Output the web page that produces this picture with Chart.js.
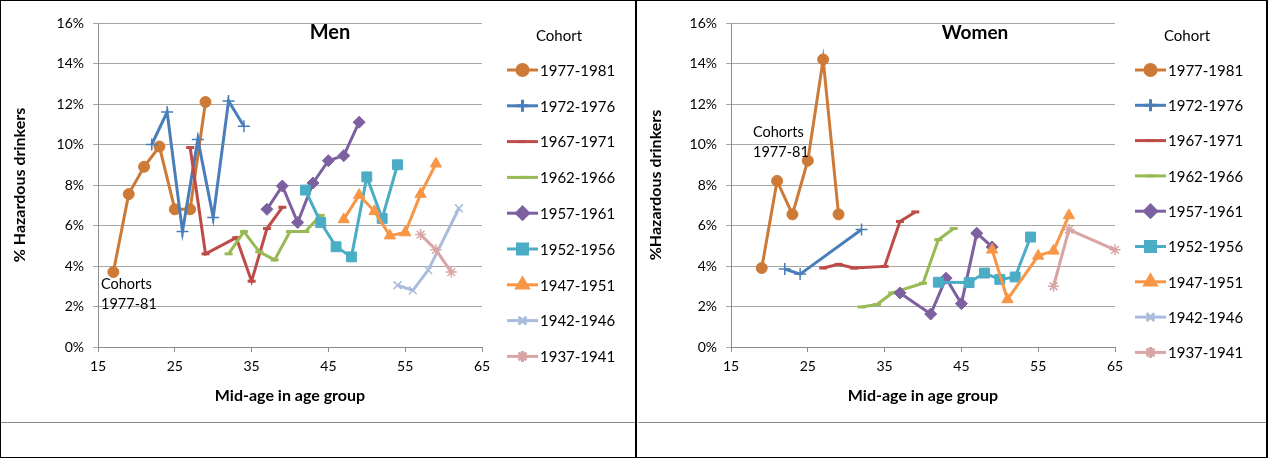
<!DOCTYPE html>
<html>
<head>
<meta charset="utf-8">
<script src="https://cdn.jsdelivr.net/npm/chart.js@4.4.0/dist/chart.umd.min.js"></script>
<style>
  body { margin: 0; background: #fff; }
  #wrap { position: relative; width: 1268px; height: 458px; overflow: hidden; background: #fff; }
  canvas { position: absolute; top: 0; }
  .bar { position: absolute; background: #000; }
  .gray { position: absolute; background: #8c8c8c; height: 1px; top: 422px; }
</style>
</head>
<body>
<div id="wrap">
  <canvas id="men" width="636" height="423" style="left:0"></canvas>
  <canvas id="women" width="632" height="423" style="left:636px"></canvas>
  <div class="gray" style="left:1px;width:634px"></div>
  <div class="gray" style="left:638px;width:628px"></div>
  <div class="bar" style="left:0;top:0;width:1268px;height:1px"></div>
  <div class="bar" style="left:0;top:0;width:1px;height:458px"></div>
  <div class="bar" style="left:635px;top:0;width:2px;height:458px"></div>
  <div class="bar" style="left:1266px;top:0;width:2px;height:458px"></div>
  <div class="bar" style="left:0;top:457px;width:1268px;height:1px"></div>
</div>
<script>
// cohorts, in legend order
const cohorts = ['1977-1981', '1972-1976', '1967-1971', '1962-1966', '1957-1961',
                 '1952-1956', '1947-1951', '1942-1946', '1937-1941'];
const colors = ['#CD7A36', '#4A7EBB', '#BE4B48', '#98B954', '#7D60A0',
                '#4BACC6', '#F79646', '#A9BCDD', '#D9A5A4'];
const markers = ['circle', 'cross', 'line', 'line', 'rectRot', 'rect', 'triangle', 'crossRot', 'star'];
const markerSize = [5.5, 6, 4, 4, 6, 7, 6.5, 5.5, 5.5];

// x = mid-age in age group, y = % hazardous drinkers
const yTicks = [0, 2, 4, 6, 8, 10, 12, 14, 16];
const xTicks = [15, 25, 35, 45, 55, 65];

// Men
const men1977 = [[17, 3.7], [19, 7.55], [21, 8.9], [23, 9.9], [25, 6.8], [27, 6.8], [29, 12.1]];
const men1972 = [[22, 10.0], [24, 11.6], [26, 5.7], [28, 10.25], [30, 6.4], [32, 12.15], [34, 10.9]];
const men1967 = [[27, 9.85], [29, 4.6], [33, 5.4], [35, 3.25], [37, 5.85], [39, 6.9]];
const men1962 = [[32, 4.6], [34, 5.7], [36, 4.7], [38, 4.3], [40, 5.7], [42, 5.7], [44, 6.5]];
const men1957 = [[37, 6.8], [39, 7.95], [41, 6.15], [43, 8.1], [45, 9.2], [47, 9.45], [49, 11.1]];
const men1952 = [[42, 7.75], [44, 6.15], [46, 4.95], [48, 4.45], [50, 8.4], [52, 6.35], [54, 9.0]];
const men1947 = [[47, 6.3], [49, 7.5], [51, 6.7], [53, 5.5], [55, 5.65], [57, 7.55], [59, 9.05]];
const men1942 = [[54, 3.05], [56, 2.8], [58, 3.8], [62, 6.85]];
const men1937 = [[57, 5.55], [59, 4.8], [61, 3.7]];

// Women
const women1977 = [[19, 3.9], [21, 8.2], [23, 6.55], [25, 9.2], [27, 14.2], [29, 6.55]];
const women1972 = [[22, 3.85], [24, 3.6], [32, 5.8]];
const women1967 = [[27, 3.9], [29, 4.08], [31, 3.9], [35, 3.98], [37, 6.2], [39, 6.67]];
const women1962 = [[32, 1.98], [34, 2.1], [36, 2.67], [40, 3.15], [42, 5.3], [44, 5.85]];
const women1957 = [[37, 2.67], [41, 1.63], [43, 3.4], [45, 2.14], [47, 5.62], [49, 4.94]];
const women1952 = [[42, 3.2], [46, 3.18], [48, 3.65], [50, 3.34], [52, 3.46], [54, 5.43]];
const women1947 = [[49, 4.8], [51, 2.35], [55, 4.5], [57, 4.75], [59, 6.5]];
const women1942 = [];
const women1937 = [[57, 3.0], [59, 5.8], [65, 4.8]];

const menSeries = [men1977, men1972, men1967, men1962, men1957, men1952, men1947, men1942, men1937];
const womenSeries = [women1977, women1972, women1967, women1962, women1957, women1952, women1947, women1942, women1937];

const FONT = 'Lato, "Open Sans", sans-serif';

function buildDatasets(series) {
  return series.map(function (pts, i) {
    var lineMarker = markers[i] === 'line' || markers[i] === 'cross' || markers[i] === 'crossRot' || markers[i] === 'star';
    return {
      label: cohorts[i],
      data: pts.map(function (p) { return { x: p[0], y: p[1] }; }),
      borderColor: colors[i],
      backgroundColor: colors[i],
      borderWidth: 3,
      pointStyle: markers[i],
      pointRadius: markerSize[i],
      pointBackgroundColor: colors[i],
      pointBorderColor: colors[i],
      pointBorderWidth: lineMarker ? (markers[i] === 'line' ? 3 : 1.5) : 1,
      tension: 0,
      clip: false,
      order: -i
    };
  });
}

// titles, note and the Excel-like legend drawn on the canvas
function decorPlugin(cfg) {
  return {
    id: 'decor',
    afterDraw: function (chart) {
      var ctx = chart.ctx;
      ctx.save();
      ctx.fillStyle = '#000';
      ctx.textBaseline = 'middle';
      ctx.font = 'bold ' + cfg.titleSize + 'px ' + FONT;
      ctx.textAlign = 'center';
      ctx.fillText(cfg.title, cfg.titleX, 33);

      ctx.font = '14.5px ' + FONT;
      ctx.textAlign = 'left';
      ctx.fillText('Cohorts', cfg.noteX, cfg.noteY);
      ctx.fillText('1977-81', cfg.noteX, cfg.noteY + 20);

      ctx.font = '15px ' + FONT;
      ctx.textAlign = 'center';
      ctx.fillText('Cohort', cfg.legX + 52, 36);
      ctx.textAlign = 'left';
      chart.data.datasets.forEach(function (ds, i) {
        var y = 70 + i * cfg.legStep;
        ctx.strokeStyle = ds.borderColor;
        ctx.lineWidth = 3;
        ctx.beginPath();
        ctx.moveTo(cfg.legX, y);
        ctx.lineTo(cfg.legX + 31, y);
        ctx.stroke();
        ctx.fillStyle = ds.borderColor;
        Chart.helpers.drawPoint(ctx, {
          pointStyle: ds.pointStyle,
          radius: ds.pointRadius,
          borderWidth: ds.pointBorderWidth,
          rotation: 0
        }, cfg.legX + 15.5, y);
        ctx.fillStyle = '#000';
        ctx.fillText(ds.label, cfg.legX + 33, y + 1);
      });
      ctx.restore();
    }
  };
}

function makeChart(id, series, yTitle, axisWidth, rightPad, cfg) {
  return new Chart(document.getElementById(id), {
    type: 'line',
    data: { datasets: buildDatasets(series) },
    options: {
      responsive: false,
      animation: false,
      layout: { padding: { left: 0, right: rightPad, top: 23, bottom: 0 } },
      plugins: { legend: { display: false }, tooltip: { enabled: false } },
      scales: {
        x: {
          type: 'linear',
          min: 15,
          max: 65,
          afterBuildTicks: function (s) { s.ticks = xTicks.map(function (v) { return { value: v }; }); },
          afterFit: function (s) { s.height = 76; },
          grid: { drawOnChartArea: false, drawTicks: true, tickLength: 5, color: '#8c8c8c' },
          border: { display: true, color: '#8c8c8c', width: 1 },
          ticks: { color: '#000', padding: 6, font: { family: FONT, size: 14 } },
          title: {
            display: true, text: 'Mid-age in age group', color: '#000',
            font: { family: FONT, size: 16, weight: 'bold' }, padding: { top: 0, bottom: 18 }
          }
        },
        y: {
          min: 0,
          max: 16,
          afterBuildTicks: function (s) { s.ticks = yTicks.map(function (v) { return { value: v }; }); },
          afterFit: function (s) { s.width = axisWidth; },
          grid: { color: '#a6a6a6', lineWidth: 1, drawTicks: true, tickLength: 5 },
          border: { display: true, color: '#8c8c8c', width: 1 },
          ticks: {
            color: '#000', padding: 9, font: { family: FONT, size: 14 },
            callback: function (v) { return v + '%'; }
          },
          title: {
            display: true, text: yTitle, color: '#000',
            font: { family: FONT, size: 16, weight: 'bold' }, padding: { top: 10, bottom: 0 }
          }
        }
      }
    },
    plugins: [decorPlugin(cfg)]
  });
}

makeChart('men', menSeries, '% Hazardous drinkers', 98, 154,
  { title: 'Men', titleX: 330, titleSize: 20, noteX: 101, noteY: 284, legX: 507, legStep: 35.8 });
makeChart('women', womenSeries, '%Hazardous drinkers', 95, 153,
  { title: 'Women', titleX: 339, titleSize: 19, noteX: 117, noteY: 132, legX: 499, legStep: 35.3 });
</script>
</body>
</html>
